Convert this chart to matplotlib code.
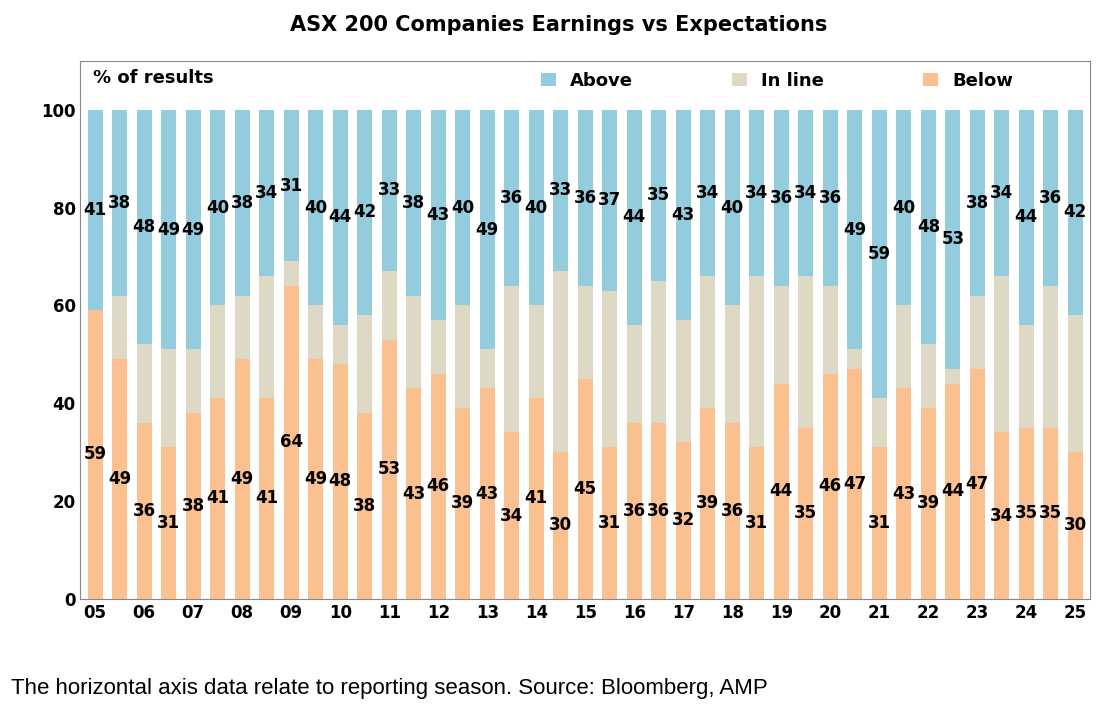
import matplotlib
matplotlib.use("Agg")
import matplotlib.pyplot as plt
import numpy as np

below = [59,49,36,31,38,41,49,41,64,49,48,38,53,43,46,39,43,34,41,30,45,31,36,36,32,39,36,31,44,35,46,47,31,43,39,44,47,34,35,35,30]
above = [41,38,48,49,49,40,38,34,31,40,44,42,33,38,43,40,49,36,40,33,36,37,44,35,43,34,40,34,36,34,36,49,59,40,48,53,38,34,44,36,42]
inline = [100-a-b for a, b in zip(above, below)]
years = ["05","06","07","08","09","10","11","12","13","14","15","16","17","18","19","20","21","22","23","24","25"]

c_above, c_in, c_below = "#93CDDD", "#DDD9C4", "#FAC090"
plt.rcParams['font.family'] = ['DejaVu Sans']
fig = plt.figure(figsize=(11.18, 7.17), dpi=100)
ax = fig.add_axes([0.072, 0.165, 0.903, 0.75])
x = np.arange(len(below))
w = 0.62
ax.bar(x, below, w, color=c_below, label="Below")
ax.bar(x, inline, w, bottom=below, color=c_in, label="In line")
ax.bar(x, above, w, bottom=np.array(below)+np.array(inline), color=c_above, label="Above")
for i in x:
    ax.text(i, below[i]/2, str(below[i]), ha="center", va="center", fontsize=12, fontweight="bold")
    ax.text(i, 100-above[i]/2, str(above[i]), ha="center", va="center", fontsize=12, fontweight="bold")
ax.set_ylim(0, 110)
ax.set_xlim(-0.6, len(below)-0.4)
ax.set_yticks([0,20,40,60,80,100])
ax.set_xticks(x[::2])
ax.set_xticklabels(years)
ax.tick_params(labelsize=12, length=0)
for t in ax.get_xticklabels()+ax.get_yticklabels():
    t.set_fontweight("bold")
for s in ax.spines.values():
    s.set_color("#888888")
ax.text(0.012, 0.985, "% of results", transform=ax.transAxes, ha="left", va="top", fontsize=13, fontweight="bold")
h, l = ax.get_legend_handles_labels()
ax.legend(h[::-1], l[::-1], ncol=3, loc="upper right", bbox_to_anchor=(0.94, 1.01), frameon=False,
          prop={'size': 13, 'weight': 'bold'}, handlelength=0.8, handleheight=0.8, columnspacing=5.5)
fig.text(0.5, 0.965, "ASX 200 Companies Earnings vs Expectations", ha="center", va="center", fontsize=15, fontweight="bold")
fig.text(0.01, 0.04, "The horizontal axis data relate to reporting season. Source: Bloomberg, AMP", ha="left", va="center", fontsize=16, family="Liberation Sans")
fig.savefig("out.png", dpi=100)
